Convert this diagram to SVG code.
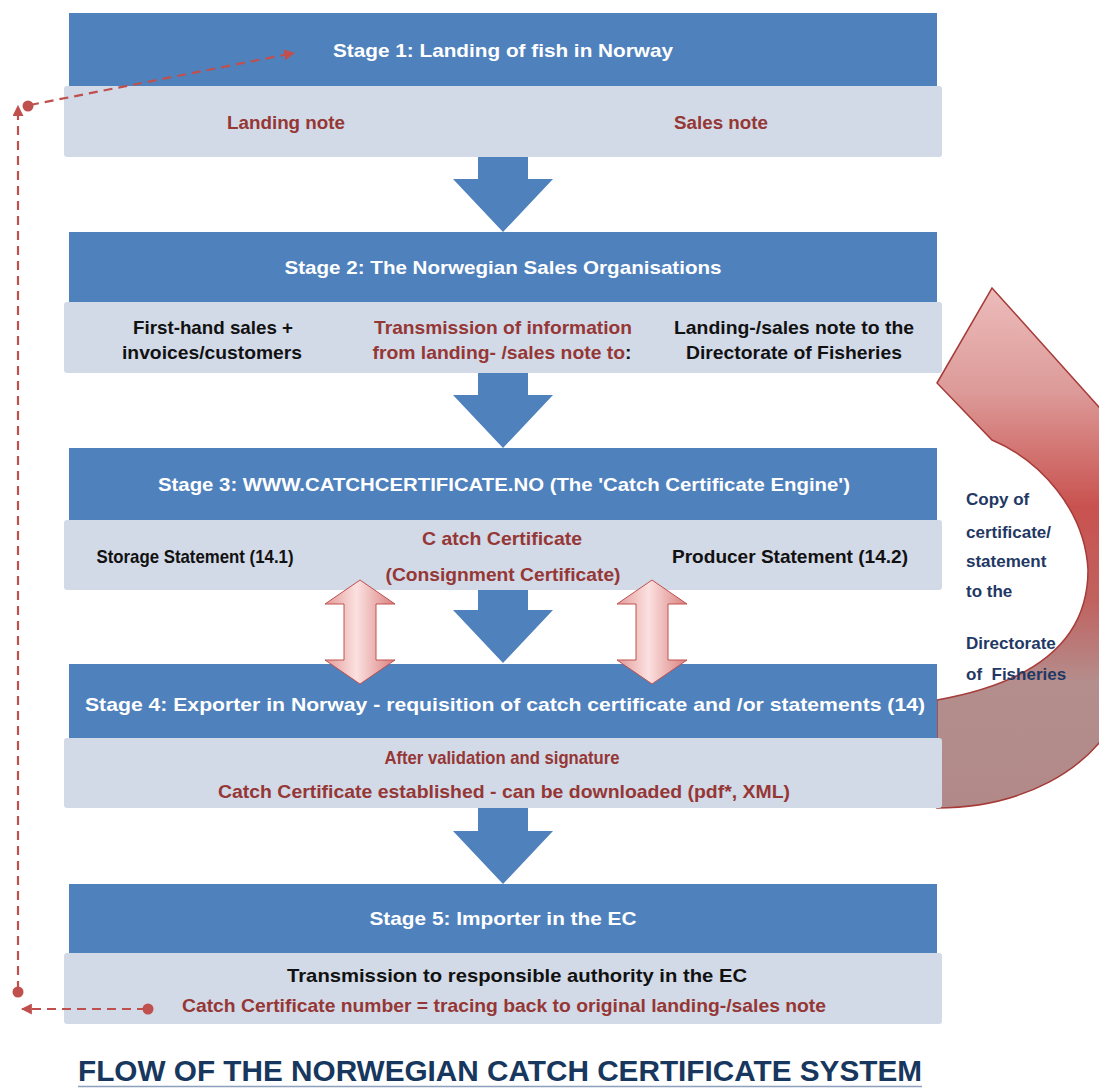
<svg xmlns="http://www.w3.org/2000/svg" width="1099" height="1088" viewBox="0 0 1099 1088">
<defs>
<style>
.hd{fill:#4f81bd}
.lt{fill:#d2d9e7}
.t{font-family:"Liberation Sans",Arial,sans-serif;font-weight:bold;font-size:18.5px;text-anchor:middle}
.w{fill:#ffffff}
.k{fill:#111111}
.r{fill:#953735}
.n{font-family:"Liberation Sans",Arial,sans-serif;font-weight:bold;font-size:17px;fill:#1f3864}
.ba{fill:#4f81bd}
.pa{fill:url(#pg);stroke:#c0504d;stroke-width:1}
.dash{fill:none;stroke:#c0504d;stroke-width:2.2;stroke-dasharray:9 6}
.dot{fill:#c0504d}
</style>
<linearGradient id="pg" x1="0" y1="0" x2="1" y2="0">
<stop offset="0" stop-color="#e29a98"/>
<stop offset="0.45" stop-color="#fbe1e0"/>
<stop offset="1" stop-color="#d9807e"/>
</linearGradient>
<linearGradient id="cg" gradientUnits="userSpaceOnUse" x1="0" y1="288" x2="0" y2="808">
<stop offset="0" stop-color="#ecbcbb"/>
<stop offset="0.2" stop-color="#dc9a98"/>
<stop offset="0.42" stop-color="#c9524f"/>
<stop offset="0.6" stop-color="#c0625f"/>
<stop offset="0.76" stop-color="#b48e8d"/>
<stop offset="1" stop-color="#b08988"/>
</linearGradient>
<marker id="ah" viewBox="0 0 10 10" refX="9" refY="5" markerWidth="5" markerHeight="5" orient="auto" markerUnits="strokeWidth">
<path d="M0,0 L10,5 L0,10 Z" fill="#c0504d"/>
</marker>
</defs>
<rect width="1099" height="1088" fill="#ffffff"/>

<g id="curved-arrow">
<path d="M937,808 C1015,808 1095,775 1125,700 C1150,630 1150,520 1118,462 L1134,446 L992,288 L937,383 L992,440 C1040,460 1085,510 1088,570 C1088,630 1050,680 937,700 Z" fill="url(#cg)" stroke="#a63c39" stroke-width="1.5"/>
</g>

<g id="stage1">
<rect class="hd" x="69" y="13" width="868" height="73"/>
<rect class="lt" x="64" y="86" width="878" height="71" rx="3"/>
<text class="t w" x="503" y="57" textLength="340" lengthAdjust="spacingAndGlyphs">Stage 1: Landing of fish in Norway</text>
<text class="t r" x="286" y="129" textLength="118" lengthAdjust="spacingAndGlyphs">Landing note</text>
<text class="t r" x="721" y="129" textLength="94" lengthAdjust="spacingAndGlyphs">Sales note</text>
</g>

<g id="stage2">
<rect class="hd" x="69" y="232" width="868" height="70"/>
<rect class="lt" x="64" y="302" width="878" height="71" rx="3"/>
<text class="t w" x="503" y="274" textLength="437" lengthAdjust="spacingAndGlyphs">Stage 2: The Norwegian Sales Organisations</text>
<text class="t k" x="213" y="334" textLength="160" lengthAdjust="spacingAndGlyphs">First-hand sales +</text>
<text class="t k" x="212" y="359" textLength="180" lengthAdjust="spacingAndGlyphs">invoices/customers</text>
<text class="t r" x="503" y="334" textLength="258" lengthAdjust="spacingAndGlyphs">Transmission of information</text>
<text class="t r" x="502" y="359" textLength="259" lengthAdjust="spacingAndGlyphs">from landing- /sales note to<tspan class="k">:</tspan></text>
<text class="t k" x="794" y="334" textLength="240" lengthAdjust="spacingAndGlyphs">Landing-/sales note to the</text>
<text class="t k" x="794" y="359" textLength="216" lengthAdjust="spacingAndGlyphs">Directorate of Fisheries</text>
</g>

<g id="stage3">
<rect class="hd" x="69" y="448" width="868" height="72"/>
<rect class="lt" x="64" y="520" width="878" height="70" rx="3"/>
<text class="t w" x="504" y="491" textLength="692" lengthAdjust="spacingAndGlyphs">Stage 3: WWW.CATCHCERTIFICATE.NO (The 'Catch Certificate Engine')</text>
<text class="t k" x="195" y="563" textLength="197" lengthAdjust="spacingAndGlyphs">Storage Statement (14.1)</text>
<text class="t r" x="502" y="545" textLength="160" lengthAdjust="spacingAndGlyphs">C atch Certificate</text>
<text class="t r" x="503" y="581" textLength="235" lengthAdjust="spacingAndGlyphs">(Consignment Certificate)</text>
<text class="t k" x="790" y="563" textLength="236" lengthAdjust="spacingAndGlyphs">Producer Statement (14.2)</text>
</g>

<g id="stage4">
<rect class="hd" x="69" y="664" width="868" height="74"/>
<rect class="lt" x="64" y="738" width="878" height="70" rx="3"/>
<text class="t w" x="505" y="711" textLength="840" lengthAdjust="spacingAndGlyphs">Stage 4: Exporter in Norway - requisition of catch certificate and /or statements (14)</text>
<text class="t r" x="502" y="764" textLength="235" lengthAdjust="spacingAndGlyphs">After validation and signature</text>
<text class="t r" x="504" y="798" textLength="572" lengthAdjust="spacingAndGlyphs">Catch Certificate established - can be downloaded (pdf*, XML)</text>
</g>

<g id="stage5">
<rect class="hd" x="69" y="884" width="868" height="69"/>
<rect class="lt" x="64" y="953" width="878" height="71" rx="3"/>
<text class="t w" x="503" y="925" textLength="267" lengthAdjust="spacingAndGlyphs">Stage 5: Importer in the EC</text>
<text class="t k" x="517" y="982" textLength="460" lengthAdjust="spacingAndGlyphs">Transmission to responsible authority in the EC</text>
<text class="t r" x="504" y="1012" textLength="644" lengthAdjust="spacingAndGlyphs">Catch Certificate number = tracing back to original landing-/sales note</text>
</g>

<g id="flow-arrows">
<path class="ba" d="M478,157 H528 V179 H553 L503,232 L453,179 H478 Z"/>
<path class="ba" d="M478,373 H528 V395 H553 L503,448 L453,395 H478 Z"/>
<path class="ba" d="M478,590 H528 V610 H553 L503,663 L453,610 H478 Z"/>
<path class="ba" d="M478,808 H528 V831 H553 L503,884 L453,831 H478 Z"/>
</g>

<g id="double-arrows">
<path class="pa" d="M360,580 L395,604 H376 V660 H395 L360,684 L325,660 H344 V604 H325 Z"/>
<path class="pa" d="M652,580 L687,604 H668 V660 H687 L652,684 L617,660 H636 V604 H617 Z"/>
</g>

<g id="side-note">
<text class="n" x="966" y="505">Copy of</text>
<text class="n" x="966" y="538">certificate/</text>
<text class="n" x="966" y="567">statement</text>
<text class="n" x="966" y="597">to the</text>
<text class="n" x="966" y="649">Directorate</text>
<text class="n" x="966" y="680" xml:space="preserve">of  Fisheries</text>
</g>

<g id="connectors">
<line class="dash" x1="146" y1="1009" x2="22" y2="1009" marker-end="url(#ah)"/>
<circle class="dot" cx="148" cy="1009" r="5.5"/>
<line class="dash" x1="18" y1="990" x2="18" y2="106" marker-end="url(#ah)"/>
<circle class="dot" cx="18" cy="992" r="5.5"/>
<line class="dash" x1="30" y1="105" x2="294" y2="53" marker-end="url(#ah)"/>
<circle class="dot" cx="28" cy="106" r="5.5"/>
</g>

<g id="title">
<text x="500" y="1081" font-family="'Liberation Sans',Arial,sans-serif" font-weight="bold" font-size="29" fill="#17375e" text-anchor="middle" textLength="844" lengthAdjust="spacingAndGlyphs">FLOW OF THE NORWEGIAN CATCH CERTIFICATE SYSTEM</text>
<line x1="78" y1="1086.5" x2="922" y2="1086.5" stroke="#8da0bd" stroke-width="1.5"/>
</g>
</svg>
